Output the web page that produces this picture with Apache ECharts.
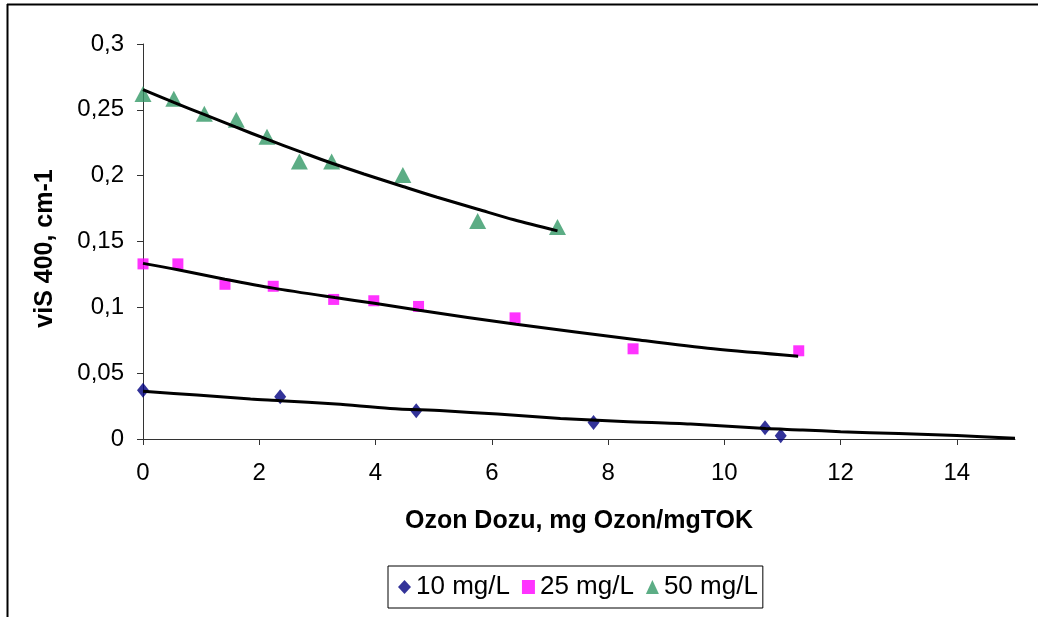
<!DOCTYPE html>
<html>
<head>
<meta charset="utf-8">
<script src="https://cdn.jsdelivr.net/npm/echarts@6/dist/echarts.min.js"></script>
<style>
  html, body { margin: 0; padding: 0; background: #fff; }
  #chart { width: 1038px; height: 617px; }
</style>
</head>
<body>
<div id="chart"></div>
<script>
// ---- data ----
const seriesNames = ['10 mg/L', '25 mg/L', '50 mg/L'];

const x10 = [0, 2.36, 4.7, 7.75, 10.7, 10.97];
const y10 = [0.037, 0.032, 0.0215, 0.0125, 0.0085, 0.0025];

const x25 = [0, 0.6, 1.41, 2.24, 3.28, 3.97, 4.74, 6.4, 8.43, 11.28];
const y25 = [0.133, 0.133, 0.1175, 0.116, 0.106, 0.105, 0.1007, 0.092, 0.0685, 0.067];

const x50 = [0, 0.53, 1.055, 1.605, 2.133, 2.69, 3.245, 4.47, 5.757, 7.13];
const y50 = [0.262, 0.2585, 0.247, 0.2425, 0.2295, 0.2107, 0.2107, 0.2005, 0.1656, 0.161];

// trend lines
const t10x = [0, 0.93, 1.85, 2.36, 3.32, 4.25, 5.17, 6.1, 7.18, 8.26, 9.42, 10.71, 11.35, 12, 13, 14, 15];
const t10y = [0.0362, 0.0334, 0.0303, 0.0291, 0.0265, 0.0232, 0.0214, 0.0189, 0.0156, 0.0133, 0.0113, 0.0079, 0.0069, 0.0055, 0.0041, 0.0027, 0.0005];

const t25x = [0, 0.6, 1.41, 2.24, 3.3, 3.98, 4.75, 6.42, 8.46, 9.81, 11.27];
const t25y = [0.1334, 0.1286, 0.1214, 0.1146, 0.1074, 0.1031, 0.0978, 0.0871, 0.0756, 0.0685, 0.0629];

const t50x = [0, 0.53, 1.06, 1.6, 2.13, 2.69, 3.25, 3.8, 4.47, 5.06, 5.76, 6.38, 7.13];
const t50y = [0.2653, 0.2556, 0.2463, 0.2368, 0.2277, 0.2185, 0.2094, 0.2013, 0.1918, 0.1836, 0.1745, 0.1665, 0.1581];

const xTicks = [0, 2, 4, 6, 8, 10, 12, 14];
const yTicks = [0, 0.05, 0.1, 0.15, 0.2, 0.25, 0.3];

const xTitle = 'Ozon Dozu, mg Ozon/mgTOK';
const yTitle = 'viS 400, cm-1';

const colors = ['#000080', '#FF00FF', '#339966'];

// ---- build ----
const zip = (xs, ys) => xs.map((x, i) => [x, ys[i]]);
const FONT = 'Liberation Sans, Arial, sans-serif';

const chart = echarts.init(document.getElementById('chart'), null, { renderer: 'canvas' });

const trend = (name, xs, ys) => ({
  name: name,
  type: 'line',
  data: zip(xs, ys),
  smooth: 0.3,
  showSymbol: false,
  symbol: 'none',
  lineStyle: { color: '#000', width: 3 },
  z: 4,
  silent: true
});

chart.setOption({
  animation: false,
  backgroundColor: '#fff',
  grid: { left: 143, right: 23, top: 44, bottom: 178, outerBoundsMode: 'none' },
  graphic: [
    { type: 'line', shape: { x1: 7, y1: 4.5, x2: 1038, y2: 4.5 }, style: { stroke: '#000', lineWidth: 2 } },
    { type: 'line', shape: { x1: 7.5, y1: 4, x2: 7.5, y2: 617 }, style: { stroke: '#000', lineWidth: 2 } }
  ],
  legend: {
    data: [
      { name: seriesNames[0], icon: 'diamond' },
      { name: seriesNames[1], icon: 'rect' },
      { name: seriesNames[2], icon: 'triangle' }
    ],
    left: 388,
    top: 566,
    orient: 'horizontal',
    borderColor: '#000',
    borderWidth: 1,
    padding: [8, 5, 8, 10],
    itemGap: 12,
    itemWidth: 13,
    itemHeight: 14,
    textStyle: { fontFamily: FONT, fontSize: 26, color: '#000' }
  },
  xAxis: {
    type: 'value',
    min: 0,
    max: 15,
    interval: 2,
    name: xTitle,
    nameLocation: 'middle',
    nameGap: 70,
    nameTextStyle: { fontFamily: FONT, fontSize: 25, fontWeight: 'bold', color: '#000' },
    splitLine: { show: false },
    axisLine: { show: true, onZero: false, lineStyle: { color: '#333', width: 1 } },
    axisTick: { show: true, length: 6, lineStyle: { color: '#333' }, customValues: xTicks },
    axisLabel: { fontFamily: FONT, fontSize: 24, color: '#000', margin: 22, customValues: xTicks }
  },
  yAxis: {
    type: 'value',
    min: 0,
    max: 0.3,
    interval: 0.05,
    name: yTitle,
    nameLocation: 'middle',
    nameGap: 85,
    nameTextStyle: { fontFamily: FONT, fontSize: 25, fontWeight: 'bold', color: '#000', padding: [0, 14, 0, 0] },
    splitLine: { show: false },
    axisLine: { show: true, onZero: false, lineStyle: { color: '#333', width: 1 } },
    axisTick: { show: true, length: 6, lineStyle: { color: '#333' }, customValues: yTicks },
    axisLabel: {
      fontFamily: FONT, fontSize: 24, color: '#000', margin: 19, customValues: yTicks,
      formatter: v => String(+v.toFixed(2)).replace('.', ',')
    }
  },
  series: [
    {
      name: seriesNames[0], type: 'scatter', data: zip(x10, y10),
      symbol: 'diamond', symbolSize: [12, 15],
      itemStyle: { color: colors[0] }, z: 3
    },
    {
      name: seriesNames[1], type: 'scatter', data: zip(x25, y25),
      symbol: 'rect', symbolSize: 11,
      itemStyle: { color: colors[1] }, z: 3
    },
    {
      name: seriesNames[2], type: 'scatter', data: zip(x50, y50),
      symbol: 'triangle', symbolSize: [17, 16],
      itemStyle: { color: colors[2] }, z: 3
    },
    trend('trend10', t10x, t10y),
    trend('trend25', t25x, t25y),
    trend('trend50', t50x, t50y)
  ]
});
</script>
</body>
</html>
